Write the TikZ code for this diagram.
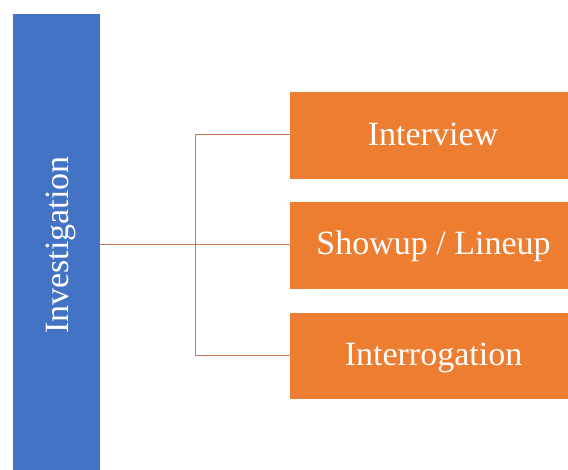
\documentclass[tikz,border=0pt]{standalone}
\usepackage{fontspec}
\setmainfont{Liberation Serif}
\definecolor{invblue}{HTML}{4472C4}
\definecolor{boxorange}{HTML}{ED7D31}
\definecolor{linkline}{HTML}{C97A4E}
\begin{document}
\begin{tikzpicture}[x=1pt,y=-1pt,
  bigtext/.style={font=\fontsize{34}{40}\selectfont, text=white},
  catbox/.style={fill=boxorange, draw=none, minimum width=278pt, minimum height=86.5pt, inner sep=0pt, anchor=north west},
  link/.style={draw=linkline, line width=1pt}]
\useasboundingbox (0,0) rectangle (568,470);
\node[fill=invblue, draw=none, minimum width=87pt, minimum height=456pt, inner sep=0pt, anchor=north west] (inv) at (13,14) {};
\node[bigtext, rotate=90, text height=22.5pt, text depth=0pt, inner sep=0pt] (invlabel) at (57,245) {Investigation};
\node[catbox] (b1) at (290,92) {};
\node[catbox] (b2) at (290,202) {};
\node[catbox] (b3) at (290,312.5) {};
\node[bigtext, text height=22.5pt, text depth=0pt, inner sep=0pt] (t1) at (433,134.5) {Interview};
\node[bigtext, text height=22.5pt, text depth=0pt, inner sep=0pt] (t2) at (433.5,243.5) {Showup / Lineup};
\node[bigtext, text height=22.5pt, text depth=0pt, inner sep=0pt] (t3) at (433.5,354.5) {Interrogation};
\coordinate (j) at (195,245);
\draw[link] (inv.east |- j) -- (j);
\draw[link] (j |- 0,134.5) -- (j |- 0,355.5);
\draw[link] (j) -- (b2.west |- j);
\draw[link] (j |- 0,134.5) -- (b1.west |- 0,134.5);
\draw[link] (j |- 0,355.5) -- (b3.west |- 0,355.5);
\end{tikzpicture}
\end{document}
